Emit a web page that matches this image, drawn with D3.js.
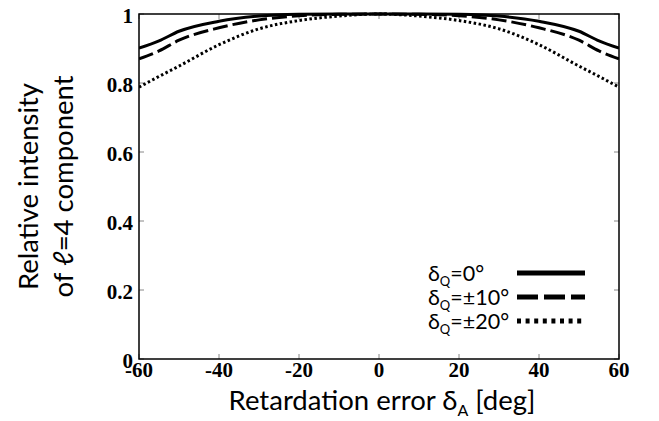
<!DOCTYPE html>
<html>
<head>
<meta charset="utf-8">
<script src="https://cdn.jsdelivr.net/npm/d3@7"></script>
<style>
  body { margin: 0; background: #fff; }
  svg { display: block; }
  .tick-label { font-family: "Liberation Serif", "Times New Roman", serif; font-weight: bold; font-size: 21px; fill: #000; }
  .axis-title { font-family: Lato, "Open Sans", sans-serif; font-size: 27.5px; fill: #000; }
  .legend-text { font-family: Lato, "Open Sans", sans-serif; font-size: 21.5px; fill: #000; }
</style>
</head>
<body>
<svg id="chart"></svg>
<script>
// retardation error (deg) and relative intensity of the l=4 component
const errorDeg = [-60, -55, -50, -40, -30, -20, -10, 0, 10, 20, 30, 40, 50, 55, 60];
const solidVals = [0.901, 0.922, 0.950, 0.979, 0.994, 0.999, 1.0, 1.0, 1.0, 0.999, 0.994, 0.979, 0.950, 0.922, 0.901];
const dashedVals = [0.870, 0.893, 0.924, 0.960, 0.983, 0.995, 0.999, 1.0, 0.999, 0.995, 0.983, 0.960, 0.924, 0.893, 0.870];
const dottedVals = [0.788, 0.819, 0.849, 0.911, 0.957, 0.981, 0.994, 1.0, 0.994, 0.981, 0.957, 0.911, 0.849, 0.819, 0.788];

const xTicks = [-60, -40, -20, 0, 20, 40, 60];
const yTicks = [0, 0.2, 0.4, 0.6, 0.8, 1];
const yTickLabels = ["0", "0.2", "0.4", "0.6", "0.8", "1"];

const legendNames = ["=0°", "=\u00b110°", "=\u00b120°"];

const W = 659, H = 421;
const margin = { top: 14, right: 40, bottom: 62, left: 139 };
const width = W - margin.left - margin.right,
      height = H - margin.top - margin.bottom;

const svg = d3.select("#chart")
  .attr("width", W)
  .attr("height", H);

const g = svg.append("g")
  .attr("transform", `translate(${margin.left},${margin.top})`);

const x = d3.scaleLinear().domain([-60, 60]).range([0, width]);
const y = d3.scaleLinear().domain([0, 1]).range([height, 0]);

const styles = [
  { dash: null, lw: 3, legDash: null, legW: 5 },
  { dash: "15,5", lw: 3, legDash: "21,6", legW: 5 },
  { dash: "2.5,2.5", lw: 3, legDash: "4,4.6", legW: 5 }
];
const series = [solidVals, dashedVals, dottedVals];

// inward ticks on all four sides
const tickLen = 5;
const tickColor = "#888";
g.selectAll(".xtb").data(xTicks).enter().append("line")
  .attr("x1", d => x(d)).attr("x2", d => x(d))
  .attr("y1", height).attr("y2", height - tickLen)
  .attr("stroke", tickColor).attr("stroke-width", 1);
g.selectAll(".xtt").data(xTicks).enter().append("line")
  .attr("x1", d => x(d)).attr("x2", d => x(d))
  .attr("y1", 0).attr("y2", tickLen)
  .attr("stroke", tickColor).attr("stroke-width", 1);
g.selectAll(".ytl").data(yTicks).enter().append("line")
  .attr("x1", 0).attr("x2", tickLen)
  .attr("y1", d => y(d)).attr("y2", d => y(d))
  .attr("stroke", tickColor).attr("stroke-width", 1);
g.selectAll(".ytr").data(yTicks).enter().append("line")
  .attr("x1", width).attr("x2", width - tickLen)
  .attr("y1", d => y(d)).attr("y2", d => y(d))
  .attr("stroke", tickColor).attr("stroke-width", 1);

// curves
const line = d3.line()
  .x((d, i) => x(errorDeg[i]))
  .y(d => y(d))
  .curve(d3.curveMonotoneX);

g.append("clipPath").attr("id", "clip")
  .append("rect").attr("x", 0).attr("y", -3).attr("width", width).attr("height", height + 3);

series.forEach((vals, i) => {
  g.append("path")
    .attr("d", line(vals))
    .attr("fill", "none")
    .attr("stroke", "#000")
    .attr("stroke-width", styles[i].lw)
    .attr("stroke-dasharray", styles[i].dash)
    .attr("clip-path", "url(#clip)");
});

// frame
g.append("rect")
  .attr("width", width).attr("height", height)
  .attr("fill", "none").attr("stroke", "#000").attr("stroke-width", 1.5);

// tick labels
g.selectAll(".xl").data(xTicks).enter().append("text")
  .attr("class", "tick-label")
  .attr("x", d => x(d))
  .attr("y", height + 18)
  .attr("text-anchor", "middle")
  .text(d => d);

g.selectAll(".yl").data(yTicks).enter().append("text")
  .attr("class", "tick-label")
  .attr("x", -6)
  .attr("y", d => y(d) + 9)
  .attr("text-anchor", "end")
  .text((d, i) => yTickLabels[i]);

// axis titles
const xt = svg.append("text")
  .attr("class", "axis-title")
  .attr("x", margin.left + width / 2 + 3)
  .attr("y", 410)
  .attr("text-anchor", "middle");
xt.append("tspan").text("Retardation error \u03b4");
xt.append("tspan").attr("font-size", "16px").attr("dy", 6).text("A");
xt.append("tspan").attr("dy", -6).text(" [deg]");

const yt = svg.append("text")
  .attr("class", "axis-title")
  .attr("transform", `translate(0,${margin.top + height / 2}) rotate(-90)`)
  .attr("text-anchor", "middle");
yt.append("tspan").attr("x", 0).attr("y", 38).text("Relative intensity");
yt.append("tspan").attr("x", 0).attr("y", 73).text("of \u2113=4 component");

// legend
const legend = svg.append("g").attr("class", "legend");
legendNames.forEach((name, i) => {
  const ly = 273 + i * 24;
  const t = legend.append("text")
    .attr("class", "legend-text")
    .attr("x", 428)
    .attr("y", ly + 8);
  t.append("tspan").text("\u03b4");
  t.append("tspan").attr("font-size", "13px").attr("dy", 5).text("Q");
  t.append("tspan").attr("dy", -5).text(name);
  legend.append("line")
    .attr("x1", 517).attr("x2", i === 2 ? 582 : 585)
    .attr("y1", ly).attr("y2", ly)
    .attr("stroke", "#000")
    .attr("stroke-width", styles[i].legW)
    .attr("stroke-dasharray", styles[i].legDash);
});
</script>
</body>
</html>
